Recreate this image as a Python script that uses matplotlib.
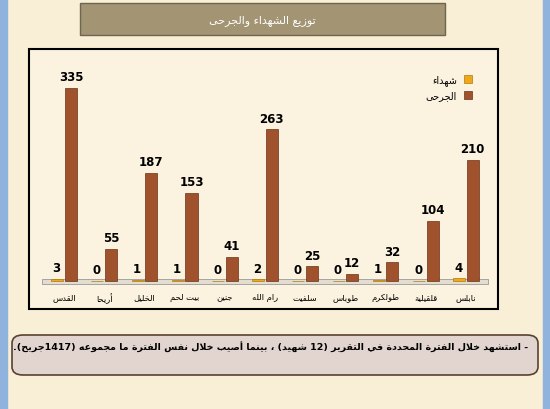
import unicodedata
import numpy as np
import matplotlib.pyplot as plt
from matplotlib.patches import FancyBboxPatch, Rectangle

plt.rcParams['font.family'] = ['DejaVu Sans']

# data
districts = ['القدس', 'أريحا', 'الخليل', 'بيت لحم', 'جنين', 'رام الله',
             'سلفيت', 'طوباس', 'طولكرم', 'قلقيلية', 'نابلس']
martyrs = [3, 0, 1, 1, 0, 2, 0, 0, 1, 0, 4]
wounded = [335, 55, 187, 153, 41, 263, 25, 12, 32, 104, 210]
title = 'توزيع الشهداء والجرحى'
caption = '- استشهد خلال الفترة المحددة في التقرير (12 شهيد) ، بينما أصيب خلال نفس الفترة ما مجموعه (1417جريح).'
legend_labels = ['شهداء', 'الجرحى']

RIGHT_ONLY = set('اأإآدذرزوؤةى')
ALEFS = {'ا': 'ALEF', 'أ': 'ALEF WITH HAMZA ABOVE',
         'إ': 'ALEF WITH HAMZA BELOW', 'آ': 'ALEF WITH MADDA ABOVE'}


def shape(text):
    # minimal arabic shaping + visual reordering
    def arabic(c):
        return c != '' and '\u0621' <= c <= '\u064a'

    def joins_left(c):
        return arabic(c) and c not in RIGHT_ONLY and c != 'ء'

    out = []
    i = 0
    while i < len(text):
        c = text[i]
        if not arabic(c):
            out.append(c)
            i += 1
            continue
        prev = text[i - 1] if i > 0 else ''
        jr = joins_left(prev)
        nxt = text[i + 1] if i + 1 < len(text) else ''
        if c == 'ل' and nxt in ALEFS:
            form = 'FINAL' if jr else 'ISOLATED'
            out.append(unicodedata.lookup('ARABIC LIGATURE LAM WITH %s %s FORM' % (ALEFS[nxt], form)))
            i += 2
            continue
        jl = joins_left(c) and arabic(nxt)
        form = {(False, False): 'ISOLATED', (True, False): 'FINAL',
                (False, True): 'INITIAL', (True, True): 'MEDIAL'}[(jr, jl)]
        name = unicodedata.name(c)
        try:
            out.append(unicodedata.lookup(name + ' ' + form + ' FORM'))
        except KeyError:
            try:
                out.append(unicodedata.lookup(name + ' ISOLATED FORM'))
            except KeyError:
                out.append(c)
        i += 1
    s = ''.join(out)[::-1]
    # put digit runs back in order, mirror brackets
    res, run = [], ''
    for c in s:
        if c.isdigit():
            run += c
        else:
            if run:
                res.append(run[::-1])
                run = ''
            res.append({'(': ')', ')': '('}.get(c, c))
    if run:
        res.append(run[::-1])
    return ''.join(res)


fig = plt.figure(figsize=(5.5, 4.1), dpi=100)
fig.patch.set_facecolor('#f9eed6')
# blue window edges
fig.add_artist(Rectangle((0, 0), 0.012, 1, transform=fig.transFigure, color='#8fb3dc', zorder=-1))
fig.add_artist(Rectangle((0.988, 0), 0.012, 1, transform=fig.transFigure, color='#8fb3dc', zorder=-1))

# title box
fig.add_artist(Rectangle((80 / 550, 1 - 36 / 410), 365 / 550, 32 / 410, transform=fig.transFigure,
                         facecolor='#a39473', edgecolor='#6e6550', lw=1, zorder=-1))
fig.text(262 / 550, 1 - 21 / 410, shape(title), ha='center', va='center', color='white', fontsize=8)

# chart frame
fig.add_artist(Rectangle((29 / 550, 1 - 310 / 410), 469 / 550, 260 / 410, transform=fig.transFigure,
                         facecolor='#fbf3df', edgecolor='black', lw=1.5, zorder=-1))

ax = fig.add_axes([40 / 550, 1 - 285 / 410, 450 / 550, 225 / 410])
ax.set_facecolor('none')
x = np.arange(len(districts))
w = 0.3
ax.fill_between([-0.55, len(districts) - 0.45], -6, 2, color='#e3ddd0', edgecolor='#999999', lw=0.6)
b1 = ax.bar(x - 0.17, martyrs, w, bottom=0, color='#f0a818', edgecolor='#b07a10', lw=0.5,
            label=shape(legend_labels[0]))
b2 = ax.bar(x + 0.17, wounded, w, bottom=0, color='#a0522d', edgecolor='#6b3316', lw=0.5,
            label=shape(legend_labels[1]))
for xi, m, v in zip(x, martyrs, wounded):
    ax.text(xi - 0.19, m + 8, str(m), ha='center', va='bottom', fontsize=8.5, fontweight='bold')
    ax.text(xi + 0.17, v + 8, str(v), ha='center', va='bottom', fontsize=8.5, fontweight='bold')
ax.set_xlim(-0.6, len(districts) - 0.4)
ax.set_ylim(-6, 385)
ax.set_xticks(x)
ax.set_xticklabels([shape(d) for d in districts], fontsize=6)
ax.tick_params(length=0, pad=6)
ax.set_yticks([])
for s in ax.spines.values():
    s.set_visible(False)
ax.legend(loc='upper right', bbox_to_anchor=(0.98, 0.97), frameon=False, fontsize=7,
          handlelength=0.8, handleheight=0.8, markerfirst=False)

# caption box
fig.add_artist(FancyBboxPatch((12 / 550, 1 - 376 / 410), 526 / 550, 40 / 410,
                              boxstyle='round,pad=0,rounding_size=0.02', transform=fig.transFigure,
                              facecolor='#e2d5cf', edgecolor='#5a4030', lw=1.2, zorder=-1))
fig.text(528 / 550, 1 - 347 / 410, shape(caption), ha='right', va='center', fontsize=6.8,
         fontweight='bold')

fig.savefig('out.png', dpi=100, facecolor=fig.get_facecolor())
